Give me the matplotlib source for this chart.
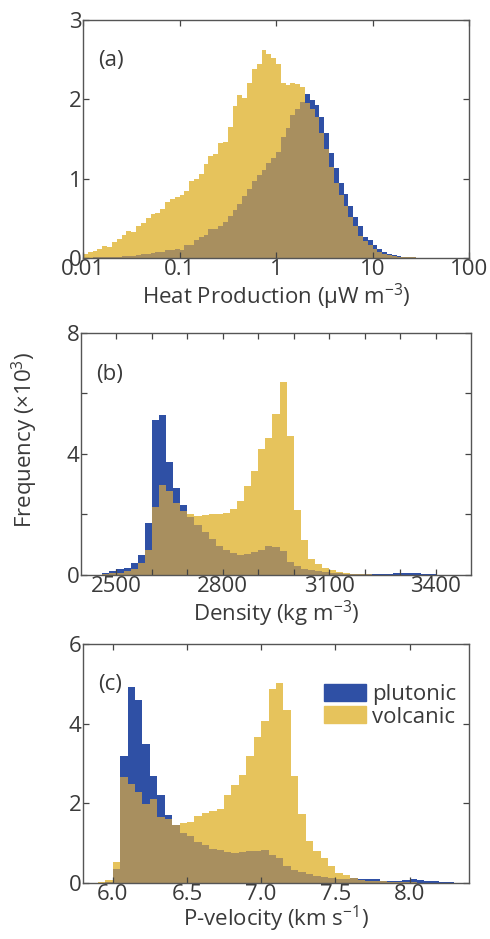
"""
plot.py -- plutonic vs volcanic histograms: heat production, density, P-velocity.
"""
import numpy as np
import matplotlib
matplotlib.use("Agg")
import matplotlib.pyplot as plt
from matplotlib.patches import Patch

plt.rcParams["font.family"] = ["Open Sans", "DejaVu Sans"]
plt.rcParams["mathtext.default"] = "regular"

BLUE = "#2f50a5"
YELLOW = "#e6c35c"
BROWN = "#a88f5f"
INK = "#3a3a3a"
FS = 16

# (a) heat production, log bins of 0.05 decades from 0.01 (counts x10^3)
HP_LOG_START, HP_LOG_STEP = -2.0, 0.05
hp_volcanic = [0.05, 0.07, 0.09, 0.12, 0.15, 0.14, 0.20, 0.24, 0.29, 0.34,
               0.33, 0.40, 0.44, 0.50, 0.55, 0.57, 0.62, 0.70, 0.75, 0.77,
               0.80, 0.85, 0.97, 1.00, 1.06, 1.18, 1.28, 1.31, 1.45, 1.46,
               1.65, 1.92, 2.06, 2.02, 2.20, 2.38, 2.45, 2.62, 2.57, 2.52,
               2.44, 2.20, 2.18, 2.20, 2.19, 2.15, 1.95, 1.88, 1.78, 1.57,
               1.38, 1.15, 0.94, 0.80, 0.66, 0.52, 0.40, 0.28, 0.21, 0.16,
               0.11, 0.075, 0.05, 0.035, 0.025, 0.018, 0.012, 0.010, 0.008, 0.006,
               0.004, 0.003, 0.002, 0, 0, 0, 0, 0, 0, 0]
hp_plutonic = [0.005, 0.005, 0.008, 0.010, 0.010, 0.012, 0.015, 0.018, 0.020, 0.025,
               0.030, 0.040, 0.050, 0.055, 0.060, 0.070, 0.080, 0.095, 0.100, 0.120,
               0.10, 0.17, 0.17, 0.23, 0.26, 0.29, 0.36, 0.36, 0.41, 0.46,
               0.53, 0.60, 0.68, 0.78, 0.87, 0.97, 1.05, 1.11, 1.20, 1.26,
               1.34, 1.52, 1.64, 1.80, 1.88, 1.97, 2.07, 1.99, 1.93, 1.78,
               1.57, 1.32, 1.13, 0.94, 0.81, 0.66, 0.52, 0.41, 0.27, 0.23,
               0.16, 0.11, 0.075, 0.05, 0.034, 0.022, 0.016, 0.012, 0.010, 0.006,
               0.004, 0.002, 0, 0, 0, 0, 0, 0, 0, 0]

# (b) density, 20 kg/m3 bins from 2440
RHO_START, RHO_STEP = 2440, 20
rho_volcanic = [0.0, 0.03, 0.05, 0.08, 0.12, 0.20, 0.39, 0.83, 2.26, 2.98,
                2.76, 2.37, 2.10, 2.00, 1.95, 1.98, 2.00, 2.02, 2.06, 2.18,
                2.45, 2.94, 3.44, 4.15, 4.54, 5.32, 6.38, 4.60, 2.15, 1.14,
                0.52, 0.35, 0.22, 0.15, 0.10, 0.06, 0.04, 0.03, 0.02, 0.01,
                0.01, 0.01, 0.01, 0.01, 0, 0, 0, 0, 0]
rho_plutonic = [0.0, 0.05, 0.13, 0.19, 0.24, 0.39, 0.66, 1.73, 5.13, 5.30,
                3.72, 2.89, 2.32, 1.90, 1.66, 1.43, 1.20, 0.97, 0.81, 0.74,
                0.66, 0.70, 0.77, 0.84, 0.96, 0.92, 0.78, 0.42, 0.28, 0.21,
                0.16, 0.12, 0.10, 0.08, 0.06, 0.04, 0.03, 0.02, 0.02, 0.02,
                0.03, 0.04, 0.06, 0.08, 0.06, 0.05, 0.03, 0.02, 0.0]

# (c) P-velocity, 0.05 km/s bins from 5.85
VP_START, VP_STEP = 5.85, 0.05
vp_volcanic = [0.01, 0.03, 0.08, 0.52, 2.65, 2.49, 2.28, 1.99, 2.12, 1.67,
               1.60, 1.46, 1.50, 1.52, 1.68, 1.76, 1.80, 1.86, 2.20, 2.47,
               2.70, 3.18, 3.66, 4.06, 4.88, 5.02, 4.35, 2.69, 1.73, 1.05,
               0.81, 0.63, 0.42, 0.25, 0.20, 0.12, 0.08, 0.06, 0.05, 0.04,
               0.03, 0.02, 0.02, 0.02, 0.01, 0.01, 0, 0, 0, 0]
vp_plutonic = [0.0, 0.01, 0.02, 0.35, 3.20, 4.92, 4.60, 3.50, 2.68, 2.20,
               1.70, 1.45, 1.26, 1.17, 1.03, 0.95, 0.85, 0.84, 0.77, 0.76,
               0.79, 0.81, 0.80, 0.84, 0.71, 0.63, 0.44, 0.32, 0.28, 0.23,
               0.18, 0.15, 0.12, 0.10, 0.10, 0.12, 0.10, 0.10, 0.09, 0.06,
               0.05, 0.05, 0.08, 0.10, 0.07, 0.06, 0.05, 0.03, 0.02, 0.01]


def overlay(ax, edges, plut, volc):
    plut = np.asarray(plut); volc = np.asarray(volc)
    ax.stairs(plut, edges, fill=True, color=BLUE, lw=0)
    ax.stairs(volc, edges, fill=True, color=YELLOW, lw=0)
    ax.stairs(np.minimum(plut, volc), edges, fill=True, color=BROWN, lw=0)


def style(ax, tag):
    for s in ax.spines.values():
        s.set_color("#555555"); s.set_linewidth(1.0)
    ax.tick_params(direction="in", top=True, right=True, length=4.5, width=0.9,
                   color="#444444", labelcolor=INK, labelsize=FS, pad=1)
    ax.tick_params(which="minor", length=0)
    ax.text(0.04, 0.83, tag, transform=ax.transAxes, fontsize=FS, color=INK,
            va="center", ha="left")


fig = plt.figure(figsize=(4.9, 9.39), dpi=100)
axa = fig.add_axes([0.1694, 0.7252, 0.7878, 0.2535])
axb = fig.add_axes([0.1653, 0.3877, 0.7960, 0.2577])
axc = fig.add_axes([0.1694, 0.0596, 0.7878, 0.2545])

# (a)
edges_a = 10 ** (HP_LOG_START + HP_LOG_STEP * np.arange(len(hp_volcanic) + 1))
overlay(axa, edges_a, hp_plutonic, hp_volcanic)
axa.set_xscale("log")
axa.set_xlim(0.01, 100); axa.set_ylim(0, 3)
axa.set_xticks([0.01, 0.1, 1, 10, 100])
axa.set_xticklabels(["0.01", "0.1", "1", "10", "100"])
axa.set_yticks([0, 1, 2, 3])
axa.set_xlabel("Heat Production (μW m$^{-3}$)", fontsize=FS, color=INK, labelpad=1)
style(axa, "(a)")

# (b)
edges_b = RHO_START + RHO_STEP * np.arange(len(rho_volcanic) + 1)
overlay(axb, edges_b, rho_plutonic, rho_volcanic)
axb.set_xlim(2400, 3500); axb.set_ylim(0, 8)
axb.set_xticks(np.arange(2500, 3401, 100))
axb.set_xticklabels([str(v) if v in (2500, 2800, 3100, 3400) else ""
                     for v in range(2500, 3401, 100)])
axb.set_yticks([0, 2, 4, 6, 8])
axb.set_yticklabels(["0", "", "4", "", "8"])
axb.set_xlabel("Density (kg m$^{-3}$)", fontsize=FS, color=INK, labelpad=1)
style(axb, "(b)")

# (c)
edges_c = VP_START + VP_STEP * np.arange(len(vp_volcanic) + 1)
overlay(axc, edges_c, vp_plutonic, vp_volcanic)
axc.set_xlim(5.8, 8.4); axc.set_ylim(0, 6)
axc.set_xticks([6.0, 6.5, 7.0, 7.5, 8.0])
axc.set_xticklabels(["6.0", "6.5", "7.0", "7.5", "8.0"])
axc.set_yticks([0, 2, 4, 6])
axc.set_xlabel("P-velocity (km s$^{-1}$)", fontsize=FS, color=INK, labelpad=-1)
style(axc, "(c)")
axc.legend(handles=[Patch(color=BLUE, label="plutonic"),
                    Patch(color=YELLOW, label="volcanic")],
           loc="upper left", bbox_to_anchor=(0.6, 0.87), frameon=False,
           fontsize=FS, handlelength=1.9, handleheight=0.8,
           handletextpad=0.3, labelspacing=0.05, borderaxespad=0)
for t in axc.get_legend().get_texts():
    t.set_color(INK)

fig.text(25 / 490, 1 - 440 / 939, "Frequency (×10$^{3}$)", rotation=90,
         ha="center", va="center", fontsize=FS, color=INK)

fig.savefig("out.png", dpi=100)
